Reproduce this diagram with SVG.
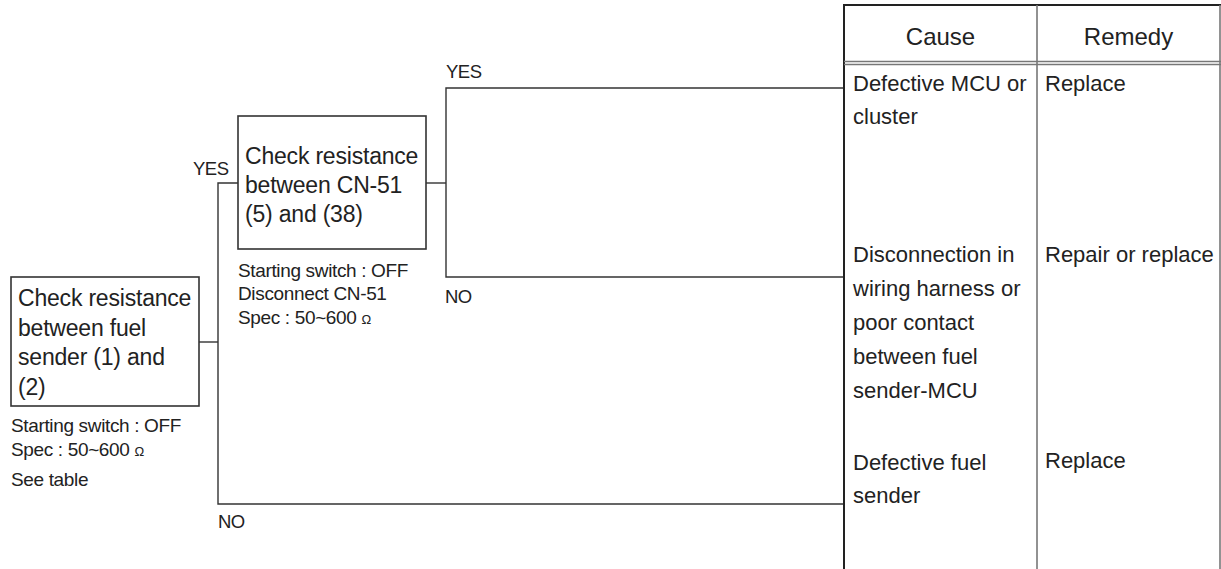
<svg xmlns="http://www.w3.org/2000/svg" width="1221" height="569" viewBox="0 0 1221 569">
<style>
.bg{fill:#fff}
.box{fill:#fff;stroke:#333;stroke-width:1.6}
.con{fill:none;stroke:#333;stroke-width:1.4}
.bt{font-family:"Liberation Sans",Arial,sans-serif;font-size:23px;letter-spacing:-0.2px;fill:#222}
.nt{font-family:"Liberation Sans",Arial,sans-serif;font-size:19px;letter-spacing:-0.35px;fill:#222}
.lb{font-family:"Liberation Sans",Arial,sans-serif;font-size:18.5px;letter-spacing:-0.5px;fill:#222}
.th{font-family:"Liberation Sans",Arial,sans-serif;font-size:24px;fill:#222}
.td{font-family:"Liberation Sans",Arial,sans-serif;font-size:22px;fill:#222}
.om{font-size:13px}
.tb{stroke:#222;stroke-width:2;fill:none}
.tg{stroke:#777;stroke-width:1.6;fill:none}
</style>
<rect class="bg" x="0" y="0" width="1221" height="569"/>

<g id="connectors">
  <polyline class="con" points="199,342 218,342"/>
  <polyline class="con" points="238,183 218,183 218,504 844,504"/>
  <polyline class="con" points="426,183 446,183"/>
  <polyline class="con" points="844,88 446,88 446,277 844,277"/>
  <text class="lb" x="193" y="175">YES</text>
  <text class="lb" x="218" y="528">NO</text>
  <text class="lb" x="446" y="78">YES</text>
  <text class="lb" x="445" y="303">NO</text>
</g>

<g id="node-check-fuel-sender">
  <rect class="box" x="11" y="277" width="188" height="129"/>
  <text class="bt" x="18" y="306">Check resistance</text>
  <text class="bt" x="18" y="336">between fuel</text>
  <text class="bt" x="18" y="365">sender (1) and</text>
  <text class="bt" x="18" y="395">(2)</text>
  <text class="nt" x="11" y="432">Starting switch : OFF</text>
  <text class="nt" x="11" y="456">Spec : 50~600 <tspan class="om">Ω</tspan></text>
  <text class="nt" x="11" y="486">See table</text>
</g>

<g id="node-check-cn51">
  <rect class="box" x="238" y="116" width="188" height="133"/>
  <text class="bt" x="245" y="164">Check resistance</text>
  <text class="bt" x="245" y="193">between CN-51</text>
  <text class="bt" x="245" y="222">(5) and (38)</text>
  <text class="nt" x="238" y="277">Starting switch : OFF</text>
  <text class="nt" x="238" y="300">Disconnect CN-51</text>
  <text class="nt" x="238" y="324">Spec : 50~600 <tspan class="om">Ω</tspan></text>
</g>

<g id="table">
  <line class="tb" x1="844" y1="5" x2="1221" y2="5"/>
  <line class="tb" x1="844" y1="4" x2="844" y2="569"/>
  <line class="tg" x1="1037" y1="5" x2="1037" y2="569"/>
  <line class="tg" x1="1220" y1="5" x2="1220" y2="569"/>
  <line class="tg" x1="844" y1="61.5" x2="1221" y2="61.5"/>
  <line class="tg" x1="844" y1="64.5" x2="1221" y2="64.5"/>
  <text class="th" x="940.5" y="45" text-anchor="middle">Cause</text>
  <text class="th" x="1128.5" y="45" text-anchor="middle">Remedy</text>
</g>

<g id="result-mcu">
  <text class="td" x="853" y="91">Defective MCU or</text>
  <text class="td" x="853" y="124">cluster</text>
  <text class="td" x="1045" y="91">Replace</text>
</g>

<g id="result-harness">
  <text class="td" x="853" y="262">Disconnection in</text>
  <text class="td" x="853" y="296">wiring harness or</text>
  <text class="td" x="853" y="330">poor contact</text>
  <text class="td" x="853" y="364">between fuel</text>
  <text class="td" x="853" y="398">sender-MCU</text>
  <text class="td" x="1045" y="262">Repair or replace</text>
</g>

<g id="result-sender">
  <text class="td" x="853" y="470">Defective fuel</text>
  <text class="td" x="853" y="503">sender</text>
  <text class="td" x="1045" y="468">Replace</text>
</g>
</svg>
